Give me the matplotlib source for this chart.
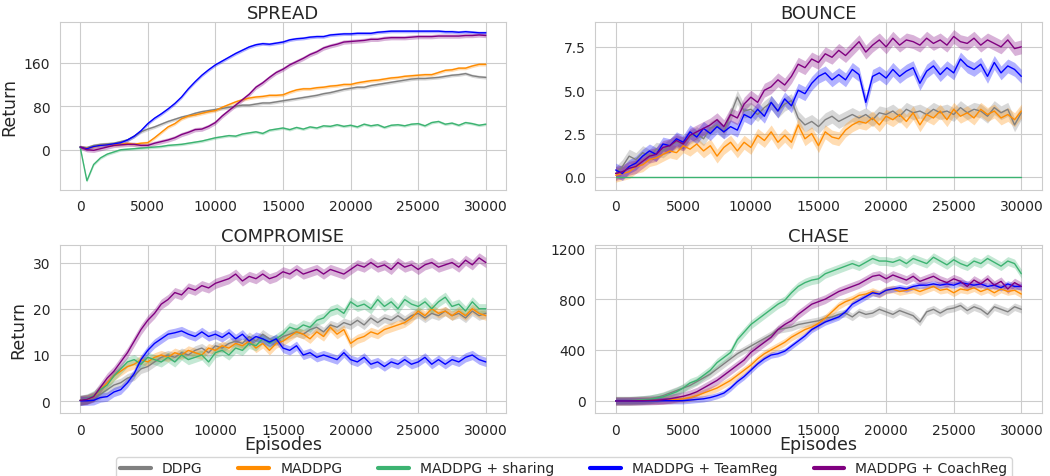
import numpy as np
import matplotlib
matplotlib.use("Agg")
import matplotlib.pyplot as plt
import seaborn as sns

sns.set_style("whitegrid")
plt.rcParams['font.family'] = ['DejaVu Sans']

episodes = np.arange(0, 30001, 500)

algos = ["DDPG", "MADDPG", "MADDPG + sharing", "MADDPG + TeamReg", "MADDPG + CoachReg"]
colors = ["grey", "darkorange", "mediumseagreen", "blue", "purple"]

# SPREAD
spread_ddpg = [5, 4, 8, 10, 11, 12, 15, 18, 25, 33, 38, 42, 47, 52, 56, 60, 63, 67, 70, 72, 74,
               76, 78, 80, 82, 82, 84, 86, 86, 88, 90, 92, 94, 96, 98, 100, 103, 105, 108, 111, 113,
               115, 115, 118, 120, 122, 124, 126, 128, 130, 131, 131, 132, 133, 135, 137, 138, 140, 136, 134, 133]
spread_maddpg = [5, 3, 5, 8, 9, 9, 10, 12, 10, 12, 13, 22, 32, 42, 48, 57, 62, 64, 67, 70, 72,
                 78, 83, 88, 92, 95, 97, 98, 100, 100, 101, 106, 110, 112, 112, 114, 115, 117, 118, 120, 120,
                 123, 125, 127, 128, 130, 132, 133, 135, 136, 137, 138, 138, 142, 146, 147, 150, 150, 154, 157, 157]
spread_sharing = [5, -57, -27, -15, -8, -4, 0, 1, 2, 3, 4, 5, 6, 8, 9, 10, 12, 14, 16, 19, 22,
                  24, 26, 25, 29, 31, 33, 30, 36, 38, 40, 37, 41, 38, 42, 40, 44, 43, 46, 43, 45,
                  42, 47, 44, 46, 41, 45, 46, 44, 47, 48, 44, 50, 52, 47, 49, 45, 50, 48, 45, 47]
spread_teamreg = [5, 2, 6, 8, 9, 11, 13, 18, 25, 35, 48, 58, 66, 75, 85, 97, 112, 125, 137, 147, 156,
                  163, 170, 177, 183, 189, 193, 195, 194, 196, 198, 202, 204, 205, 207, 208, 208, 211, 212, 213, 213,
                  214, 214, 214, 216, 217, 218, 218, 218, 218, 218, 218, 218, 218, 217, 217, 216, 217, 216, 215, 215]
spread_coachreg = [5, 0, -1, 2, 5, 8, 9, 10, 10, 8, 8, 12, 15, 18, 22, 28, 32, 37, 38, 43, 50,
                   62, 72, 82, 92, 102, 115, 123, 133, 142, 148, 156, 162, 168, 175, 180, 187, 191, 194, 198, 199,
                   200, 201, 203, 203, 205, 206, 206, 206, 207, 208, 208, 208, 209, 209, 209, 209, 210, 210, 211, 210]
spread_band = [3.0, 3.0, 2.5, 3.0, 4.0]

# BOUNCE
bounce_ddpg = [0.2, 0.6, 1.2, 1.0, 1.4, 1.2, 1.6, 1.5, 1.8, 2.0, 1.9, 2.3, 2.5, 2.2, 2.8, 3.0, 2.6, 3.6, 4.6, 3.8, 3.9,
               3.6, 4.0, 4.3, 3.8, 4.2, 4.4, 3.4, 3.0, 3.2, 2.9, 3.3, 3.5, 3.2, 3.4, 3.6, 3.4, 3.6, 3.3, 3.7, 3.6,
               3.8, 3.5, 3.9, 3.7, 3.8, 3.6, 3.9, 3.7, 3.8, 3.6, 4.0, 3.7, 3.9, 3.8, 3.5, 4.0, 3.7, 3.9, 3.0, 3.7]
bounce_maddpg = [0.1, 0.2, 0.3, 0.6, 0.7, 1.0, 1.1, 1.3, 1.5, 1.4, 1.8, 1.6, 1.9, 1.5, 1.8, 1.2, 1.7, 2.0, 1.5, 2.0, 1.7,
                 2.4, 2.1, 2.6, 2.0, 2.4, 2.0, 3.0, 2.2, 2.5, 1.8, 2.6, 2.3, 2.2, 2.7, 3.0, 3.2, 3.1, 3.4, 3.0, 3.5,
                 3.3, 3.6, 3.2, 3.7, 3.0, 3.6, 3.4, 3.8, 3.3, 3.9, 3.5, 3.7, 3.4, 3.9, 3.6, 3.8, 3.4, 3.6, 3.3, 3.8]
bounce_sharing = [0.0] * 61
bounce_teamreg = [0.4, 0.2, 0.6, 0.8, 1.2, 1.5, 1.3, 1.9, 1.8, 2.2, 2.0, 2.6, 2.3, 2.8, 2.5, 2.9, 2.6, 2.9, 2.7, 3.6, 3.4,
                  3.9, 3.5, 4.3, 3.8, 4.5, 4.1, 5.0, 4.8, 5.4, 5.8, 6.0, 5.6, 5.9, 5.6, 6.2, 5.9, 4.3, 5.8, 6.0, 5.7,
                  6.2, 5.8, 6.1, 6.3, 5.4, 6.1, 6.4, 5.9, 6.3, 6.0, 6.8, 6.4, 6.2, 6.5, 5.8, 6.6, 6.0, 6.4, 6.2, 5.8]
bounce_coachreg = [0.2, 0.3, 0.5, 0.6, 0.9, 1.2, 1.3, 1.7, 1.8, 2.1, 1.9, 2.4, 2.6, 2.8, 3.0, 3.3, 2.9, 3.6, 3.4, 4.2, 4.6,
                   4.3, 5.0, 5.2, 5.6, 5.3, 5.8, 6.5, 6.3, 6.8, 6.6, 7.1, 6.9, 7.3, 7.0, 7.4, 7.8, 7.2, 7.6, 7.9, 7.5,
                   8.0, 7.6, 7.9, 7.8, 7.6, 8.0, 7.7, 7.9, 7.6, 8.1, 7.8, 7.7, 8.0, 7.6, 7.9, 7.7, 7.5, 7.9, 7.4, 7.5]
bounce_band = [0.4, 0.4, 0.0, 0.4, 0.4]

# COMPROMISE
compromise_ddpg = [0.2, 0.4, 0.8, 1.5, 2.5, 3.5, 4.0, 5.0, 5.5, 7.0, 7.5, 8.5, 9.5, 10.0, 9.5, 10.5, 10.0, 11.0, 11.5, 10.5, 12.0,
                   11.5, 12.5, 13.0, 12.5, 14.0, 13.0, 14.5, 13.5, 13.0, 14.0, 14.5, 15.0, 14.5, 15.5, 16.0, 15.0, 16.5, 16.0, 17.0, 16.5,
                   17.5, 16.5, 18.0, 17.0, 18.0, 17.5, 18.5, 17.5, 18.5, 19.0, 18.0, 19.0, 18.5, 19.5, 18.5, 19.0, 18.0, 19.5, 18.5, 19.0]
compromise_maddpg = [0.2, 0.4, 1.0, 2.5, 4.0, 5.5, 6.5, 7.5, 8.0, 9.0, 8.5, 9.5, 10.0, 9.5, 10.5, 10.0, 11.0, 10.5, 10.0, 11.5, 11.0,
                     12.0, 11.5, 12.5, 12.0, 13.0, 11.5, 12.5, 11.0, 12.5, 13.0, 14.0, 15.0, 14.5, 13.5, 15.0, 14.0, 16.0, 14.5, 15.5, 12.5,
                     13.5, 14.0, 15.0, 14.5, 15.5, 16.0, 16.5, 17.0, 18.0, 19.5, 18.5, 20.0, 19.0, 19.5, 18.5, 19.5, 18.5, 20.0, 19.0, 18.5]
compromise_sharing = [0.2, 0.5, 1.2, 2.5, 3.5, 5.5, 7.0, 8.5, 9.0, 8.0, 9.5, 9.0, 8.5, 9.5, 8.5, 10.0, 9.0, 9.5, 10.0, 8.5, 10.5,
                      11.0, 10.0, 11.5, 11.0, 12.5, 12.0, 13.5, 12.5, 13.5, 14.5, 16.0, 15.5, 16.5, 16.0, 17.5, 18.0, 19.5, 20.0, 19.0, 21.5,
                      20.5, 21.0, 20.0, 22.0, 20.5, 21.5, 20.0, 22.0, 21.0, 20.5, 21.5, 20.0, 21.5, 22.5, 20.5, 21.0, 19.5, 21.5, 20.0, 20.0]
compromise_teamreg = [0.1, 0.1, 0.2, 0.8, 1.0, 2.0, 2.5, 4.0, 6.0, 9.0, 11.0, 12.5, 13.5, 14.5, 14.8, 15.2, 14.5, 14.0, 15.0, 14.0, 14.5,
                      13.8, 14.8, 13.5, 14.5, 13.0, 14.0, 13.5, 12.8, 13.5, 11.5, 11.0, 12.0, 10.0, 10.5, 9.5, 10.0, 9.5, 9.0, 10.5, 9.0,
                      8.5, 9.5, 8.0, 8.5, 7.5, 8.5, 8.0, 9.0, 8.0, 8.5, 9.5, 8.0, 9.0, 8.0, 9.0, 8.5, 9.5, 10.0, 9.0, 8.5]
compromise_coachreg = [0.2, 0.4, 1.0, 3.0, 5.0, 6.5, 8.5, 10.5, 13.0, 15.5, 17.5, 19.0, 21.0, 22.0, 23.5, 23.0, 24.5, 24.0, 25.0, 24.5, 25.5,
                       26.0, 26.5, 27.5, 26.0, 27.0, 26.5, 27.5, 26.5, 27.0, 28.0, 27.5, 28.5, 27.5, 28.0, 28.5, 27.5, 28.5, 28.0, 27.5, 28.5,
                       29.5, 29.0, 30.0, 29.0, 29.5, 28.5, 30.0, 29.0, 29.5, 28.5, 29.5, 30.0, 29.0, 29.5, 30.0, 29.0, 30.5, 29.5, 31.0, 30.0]
compromise_band = [1.0, 1.0, 1.1, 1.0, 1.1]

# CHASE
chase_ddpg = [0, 0, 2, 5, 10, 15, 25, 40, 60, 80, 100, 120, 150, 180, 210, 250, 290, 330, 370, 400, 430,
              460, 490, 520, 560, 570, 580, 600, 610, 620, 630, 650, 660, 680, 690, 660, 700, 680, 690, 720, 700,
              680, 710, 690, 670, 620, 700, 720, 690, 720, 730, 750, 710, 740, 720, 680, 740, 720, 700, 740, 720]
chase_maddpg = [-2, -2, -2, -1, 0, 1, 2, 3, 5, 10, 15, 25, 40, 60, 80, 100, 130, 160, 200, 240, 280,
                330, 370, 400, 430, 460, 500, 530, 560, 580, 610, 650, 700, 750, 780, 800, 830, 840, 860, 840, 870,
                880, 860, 870, 880, 860, 880, 900, 870, 880, 850, 880, 870, 890, 860, 880, 850, 880, 860, 870, 840]
chase_sharing = [0, 0, 0, 2, 5, 10, 20, 30, 50, 70, 100, 140, 160, 200, 240, 300, 340, 380, 480, 540, 600,
                 640, 680, 720, 760, 790, 850, 900, 930, 950, 960, 1000, 1020, 1040, 1060, 1080, 1060, 1090, 1120, 1100, 1100,
                 1090, 1110, 1080, 1120, 1100, 1080, 1130, 1100, 1070, 1110, 1080, 1060, 1100, 1080, 1120, 1090, 1060, 1100, 1080, 1000]
chase_teamreg = [-2, -2, -2, -2, -2, -1, -1, 0, 0, 0, 0, 5, 10, 15, 25, 40, 60, 100, 150, 190, 240,
                 290, 330, 360, 370, 390, 430, 470, 510, 560, 590, 620, 640, 660, 700, 760, 790, 820, 850, 840, 870,
                 880, 890, 880, 900, 910, 910, 920, 910, 920, 910, 930, 920, 910, 920, 900, 910, 890, 920, 900, 900]
chase_coachreg = [-2, -2, -2, -1, 0, 2, 4, 8, 15, 25, 35, 50, 70, 100, 130, 160, 200, 240, 280, 320, 380,
                  420, 460, 500, 560, 600, 630, 680, 720, 760, 780, 800, 830, 860, 880, 900, 920, 950, 980, 990, 960,
                  990, 970, 950, 980, 940, 960, 980, 950, 930, 960, 940, 900, 950, 920, 960, 910, 940, 880, 930, 900]
chase_band = [30, 30, 35, 25, 35]

panels = [
    ("SPREAD", [spread_ddpg, spread_maddpg, spread_sharing, spread_teamreg, spread_coachreg], spread_band, [0, 80, 160]),
    ("BOUNCE", [bounce_ddpg, bounce_maddpg, bounce_sharing, bounce_teamreg, bounce_coachreg], bounce_band, [0, 2.5, 5, 7.5]),
    ("COMPROMISE", [compromise_ddpg, compromise_maddpg, compromise_sharing, compromise_teamreg, compromise_coachreg], compromise_band, [0, 10, 20, 30]),
    ("CHASE", [chase_ddpg, chase_maddpg, chase_sharing, chase_teamreg, chase_coachreg], chase_band, [0, 400, 800, 1200]),
]

fig, axes = plt.subplots(2, 2, figsize=(10.5, 4.77), dpi=100)
fig.subplots_adjust(left=0.057, right=0.992, bottom=0.132, top=0.952, wspace=0.2, hspace=0.33)

for ax, (title, series, band, yticks) in zip(axes.flat, panels):
    for vals, sd, c, name in zip(series, band, colors, algos):
        vals = np.array(vals, dtype=float)
        ax.fill_between(episodes, vals - sd, vals + sd, color=c, alpha=0.3, lw=0)
        ax.plot(episodes, vals, color=c, lw=1.0, label=name)
    ax.set_title(title, fontsize=13, pad=3)
    ax.set_xticks(range(0, 30001, 5000))
    ax.set_yticks(yticks)
    ax.tick_params(labelsize=10)

axes[0, 1].set_yticklabels(["0.0", "2.5", "5.0", "7.5"])
axes[0, 0].set_ylabel("Return", fontsize=12.5)
axes[1, 0].set_ylabel("Return", fontsize=12.5)
axes[1, 0].set_xlabel("Episodes", fontsize=12.5, labelpad=-1)
axes[1, 1].set_xlabel("Episodes", fontsize=12.5, labelpad=-1)

handles = [plt.Line2D([], [], color=c, lw=3) for c in colors]
fig.legend(handles, algos, loc="lower center", bbox_to_anchor=(0.537, -0.022), ncol=5,
           fontsize=10, frameon=True, handlelength=2.2, columnspacing=2.6, borderpad=0.3)

fig.savefig("out.png", dpi=100)
